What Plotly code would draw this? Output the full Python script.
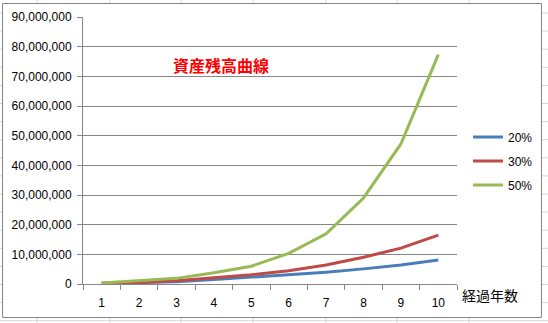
import plotly.graph_objects as go

years = ["1", "2", "3", "4", "5", "6", "7", "8", "9", "10"]
series_names = ["20%", "30%", "50%"]
rate20 = [250000, 450000, 800000, 1500000, 2300000, 3200000, 4000000, 5100000, 6400000, 8100000]
rate30 = [250000, 500000, 1100000, 2200000, 3100000, 4500000, 6400000, 9000000, 12100000, 16500000]
rate50 = [300000, 1000000, 1900000, 3800000, 6000000, 10300000, 16900000, 29000000, 47200000, 77300000]
colors = ["#4a7ebb", "#be4b48", "#98b954"]
y_ticks = [0, 10000000, 20000000, 30000000, 40000000, 50000000, 60000000, 70000000, 80000000, 90000000]
title_text = "資産残高曲線"
x_title = "経過年数"

W, H = 548, 323
L, R, T, B = 83, 457, 17, 284  # plot area in pixels


def px(x):
    return (x - L) / (R - L)


def py(y):
    return (B - y) / (B - T)


fig = go.Figure()
for name, vals, col in zip(series_names, [rate20, rate30, rate50], colors):
    fig.add_trace(go.Scatter(x=years, y=vals, mode="lines", name=name, legendgroup=name,
                             line=dict(color=col, width=3)))

shapes = []
cell = "#d6d6d6"
for cx in [37, 110, 181, 253, 326, 397, 469]:
    shapes.append(dict(type="line", xref="paper", yref="paper", x0=px(cx), x1=px(cx),
                       y0=py(0), y1=py(H), line=dict(color=cell, width=1), layer="below"))
for k in range(19):
    ry = 13 + 18.1 * k
    shapes.append(dict(type="line", xref="paper", yref="paper", x0=px(0), x1=px(W),
                       y0=py(ry), y1=py(ry), line=dict(color=cell, width=1), layer="below"))
shapes.append(dict(type="rect", xref="paper", yref="paper", x0=px(2.5), x1=px(541.5),
                   y0=py(317.5), y1=py(3.5), fillcolor="white",
                   line=dict(color="#868686", width=1), layer="below"))

fig.update_layout(
    width=W, height=H,
    margin=dict(l=L, r=W - R, t=T, b=H - B, autoexpand=False),
    paper_bgcolor="white", plot_bgcolor="rgba(0,0,0,0)",
    font=dict(family="Liberation Sans, Arial", size=12, color="black"),
    shapes=shapes,
    showlegend=True,
    legend=dict(x=px(468), y=py(122.5), xanchor="left", yanchor="top",
                bgcolor="rgba(0,0,0,0)", traceorder="grouped", tracegroupgap=5,
                font=dict(size=12, family="Liberation Sans, Arial")),
    annotations=[
        dict(text="<b>" + title_text + "</b>", xref="paper", yref="paper",
             x=px(221), y=py(65), xanchor="center", yanchor="middle", showarrow=False,
             font=dict(size=16, color="#ff0000", family="Noto Sans CJK JP")),
        dict(text=x_title, xref="paper", yref="paper", x=px(490), y=py(295),
             xanchor="center", yanchor="middle",
             showarrow=False, font=dict(size=14, color="black", family="Noto Sans CJK JP")),
    ],
)
fig.update_xaxes(type="category", range=[-0.5, 9.5], showgrid=False, showline=True,
                 linecolor="#868686", linewidth=1, ticks="outside", tickson="boundaries",
                 ticklen=5, tickcolor="#868686", ticklabelstandoff=8, zeroline=False)
fig.update_yaxes(range=[0, 90000000], tickvals=y_ticks, tickformat=",d", showgrid=True,
                 gridcolor="#868686", gridwidth=1, showline=True, linecolor="#868686",
                 linewidth=1, ticks="outside", ticklen=5, tickcolor="#868686",
                 ticklabelstandoff=3, zeroline=False)

fig.write_html("out.html")
